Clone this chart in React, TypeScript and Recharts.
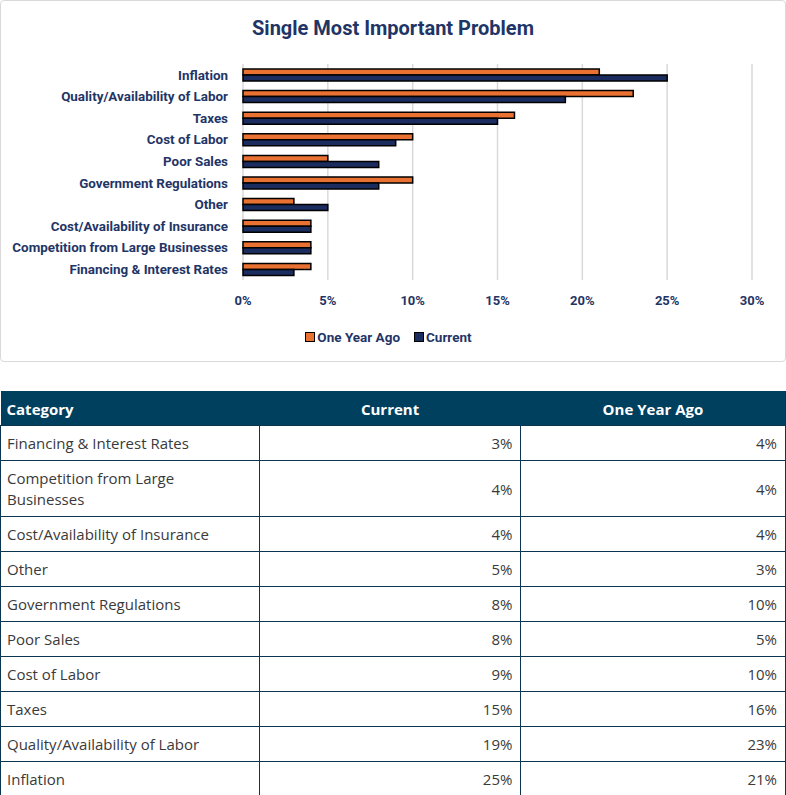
import { BarChart, Bar, XAxis, YAxis, CartesianGrid, Legend } from "recharts";

// table order (bottom of chart first)
const CATEGORIES = [
  "Financing & Interest Rates",
  "Competition from Large Businesses",
  "Cost/Availability of Insurance",
  "Other",
  "Government Regulations",
  "Poor Sales",
  "Cost of Labor",
  "Taxes",
  "Quality/Availability of Labor",
  "Inflation",
];
const CURRENT = [3, 4, 4, 5, 8, 8, 9, 15, 19, 25];
const ONE_YEAR_AGO = [4, 4, 4, 3, 10, 5, 10, 16, 23, 21];
const X_TICKS = [0, 5, 10, 15, 20, 25, 30];

const ORANGE = "#E97132";
const NAVY = "#1B2D5E";
const TEXT = "#1F3566";
const CHART_FONT = "Roboto, sans-serif";
const TABLE_FONT = "'Open Sans', sans-serif";

const chartData = CATEGORIES.map((c, i) => ({
  category: c,
  current: CURRENT[i],
  yearAgo: ONE_YEAR_AGO[i],
})).reverse();

function LegendContent() {
  const items = [
    { label: "One Year Ago", color: ORANGE },
    { label: "Current", color: NAVY },
  ];
  return (
    <div style={{ display: "flex", justifyContent: "center", gap: 14, fontFamily: CHART_FONT, fontWeight: 700, fontSize: 13.5, color: TEXT, paddingLeft: 24, paddingTop: 4 }}>
      {items.map((it) => (
        <div key={it.label} style={{ display: "flex", alignItems: "center", gap: 2 }}>
          <span style={{ width: 8, height: 8, background: it.color, border: "1.5px solid #000", display: "inline-block" }} />
          <span>{it.label}</span>
        </div>
      ))}
    </div>
  );
}

const cell: React.CSSProperties = {
  padding: "7px 8px 6px 6px",
  borderTop: "1px solid #0B3550",
  borderLeft: "1px solid #0B3550",
  lineHeight: "21px",
  verticalAlign: "middle",
};

export default function App() {
  return (
    <div style={{ position: "relative", width: 786, height: 795, overflow: "hidden", background: "#fff" }}>
      <style>{`body{margin:0}`}</style>
      <div
        style={{
          position: "absolute", left: 0, top: 0, width: 784, height: 360,
          border: "1px solid #D9D9D9", borderRadius: 4,
        }}
      >
        <div
          style={{
            position: "absolute", left: 0, top: 15, width: 784, textAlign: "center",
            fontFamily: CHART_FONT, fontWeight: 700, fontSize: 20, color: TEXT,
          }}
        >
          Single Most Important Problem
        </div>
        <BarChart
          width={784}
          height={360}
          data={chartData}
          layout="vertical"
          margin={{ top: 63, right: 33, bottom: 16, left: 0 }}
          barGap={0}
          barSize={6}
        >
          <CartesianGrid horizontal={false} stroke="#D9D9D9" strokeWidth={1.5} />
          <XAxis
            type="number"
            domain={[0, 30]}
            ticks={X_TICKS}
            interval={0}
            height={45}
            axisLine={false}
            tickLine={false}
            tickMargin={10}
            tickFormatter={(v: number) => `${v}%`}
            tick={{ fill: TEXT, fontSize: 13, fontWeight: 700, fontFamily: CHART_FONT }}
          />
          <YAxis
            type="category"
            dataKey="category"
            width={242}
            axisLine={false}
            tickLine={false}
            tickMargin={9}
            interval={0}
            tick={{ fill: TEXT, fontSize: 13.4, fontWeight: 700, fontFamily: CHART_FONT }}
          />
          <Legend verticalAlign="bottom" height={20} content={<LegendContent />} />
          <Bar dataKey="yearAgo" name="One Year Ago" fill={ORANGE} stroke="#000" strokeWidth={1.5} isAnimationActive={false} />
          <Bar dataKey="current" name="Current" fill={NAVY} stroke="#000" strokeWidth={1.5} isAnimationActive={false} />
        </BarChart>
      </div>

      <table
        style={{
          position: "absolute", left: 0, top: 391, width: 786,
          borderCollapse: "collapse", fontFamily: TABLE_FONT, fontSize: 15, color: "#3A3A3A",
          borderRight: "1px solid #0B3550", borderBottom: "1px solid #0B3550",
        }}
      >
        <colgroup>
          <col style={{ width: 259 }} />
          <col style={{ width: 262 }} />
          <col style={{ width: 265 }} />
        </colgroup>
        <thead>
          <tr style={{ background: "#00405F", color: "#fff" }}>
            <th style={{ textAlign: "left", padding: "7px 6px 6px", height: 21, fontWeight: 700 }}>Category</th>
            <th style={{ textAlign: "center", padding: "7px 6px 6px", fontWeight: 700 }}>Current</th>
            <th style={{ textAlign: "center", padding: "7px 6px 6px", fontWeight: 700 }}>One Year Ago</th>
          </tr>
        </thead>
        <tbody>
          {CATEGORIES.map((label, i) => (
            <tr key={label}>
              <td style={{ ...cell, textAlign: "left" }}>{label}</td>
              <td style={{ ...cell, textAlign: "right" }}>{CURRENT[i]}%</td>
              <td style={{ ...cell, textAlign: "right" }}>{ONE_YEAR_AGO[i]}%</td>
            </tr>
          ))}
        </tbody>
      </table>
    </div>
  );
}
